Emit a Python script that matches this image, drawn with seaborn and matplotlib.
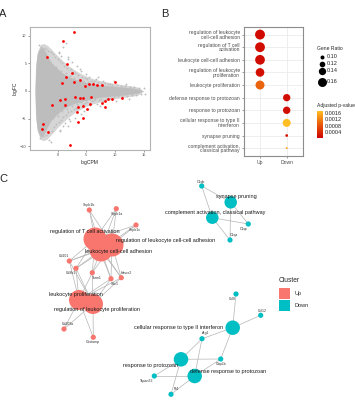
import numpy as np
import pandas as pd
import matplotlib
matplotlib.use("Agg")
import matplotlib.pyplot as plt
import seaborn as sns
from matplotlib.colors import LinearSegmentedColormap, Normalize
from matplotlib.cm import ScalarMappable
from matplotlib.patches import Rectangle

sns.set_theme(style="white")
plt.rcParams['font.family'] = ['Liberation Sans', 'DejaVu Sans']

# ---------------- Panel A data (MA plot) ----------------
cloud_x = [-3.9, -3.8, -3.6, -3.3, -3.0, -2.6, -2.2, -1.8, -1.4, -1.0, -0.5, 0.0, 0.5, 1.0,
           2.0, 3.0, 4.0, 5.0, 6.0, 7.0, 8.0, 9.0, 10.0, 11.0, 12.0, 13.0, 14.0, 14.8]
cloud_upper = [0.0, 4.2, 6.2, 7.3, 7.8, 7.8, 7.2, 6.4, 5.6, 5.0, 4.5, 4.0, 3.5, 3.1,
               2.5, 2.1, 1.8, 1.5, 1.3, 1.15, 1.0, 0.9, 0.8, 0.7, 0.6, 0.5, 0.35, 0.0]
cloud_lower = [0.0, -4.4, -6.4, -7.6, -8.2, -8.2, -7.4, -6.5, -5.7, -5.1, -4.6, -4.1, -3.6, -3.2,
               -2.6, -2.2, -1.9, -1.6, -1.35, -1.2, -1.05, -0.95, -0.85, -0.75, -0.65, -0.5, -0.35, 0.0]
halo_x = [-3.9, -3.6, -3.0, -2.4, -1.8, -1.2, -0.6, 0.0, 1.0, 2.0, 3.0, 4.0, 5.0, 6.0, 7.0,
          8.0, 9.0, 10.0, 11.0, 12.0, 13.0, 14.0, 15.0]
halo_upper = [0.0, 6.8, 8.4, 8.6, 8.3, 7.7, 7.0, 6.4, 5.4, 4.5, 3.8, 3.2, 2.7, 2.3, 2.0,
              1.75, 1.55, 1.35, 1.2, 1.05, 0.9, 0.7, 0.0]
halo_lower = [0.0, -7.0, -8.8, -9.0, -8.7, -8.0, -7.3, -6.6, -5.6, -4.7, -3.9, -3.3, -2.8, -2.4, -2.1,
              -1.85, -1.65, -1.4, -1.25, -1.1, -0.95, -0.75, 0.0]
gray_x = [-3.2, -2.8, -2.4, -2.0, -1.6, -1.2, -0.8, -0.4, 0.0, 0.4, 0.8, 1.2, 1.6, 0.2, 0.6, 1.0, 1.5,
          1.9, 2.3, 2.7, 3.1, 3.5, 3.9, 4.3, 4.7, 5.1, 5.5, 5.9, 6.3, 6.7, 7.1, 7.5, 7.9, 8.3, 8.7,
          9.1, 9.5, 10.3, 11.0, 11.8, 12.6, 13.4, 14.2, 15.1, -1.0, -0.2, 0.6, 1.4, 2.1, 2.9, 3.7,
          4.5, 5.3, 6.1, 2.5, 3.3, 4.1, 0.3, 1.8, 5.0, 7.0, 9.8, 12.0,
          -3.0, -2.5, -2.0, -1.5, -1.2, -1.0, -0.6, -0.2, 0.2, 0.6, 1.0, 1.4, 1.8, 0.4, 0.9, 1.3,
          2.0, 2.4, 2.8, 3.2, 3.6, 4.0, 4.4, 4.8, 5.2, 5.6, 6.0, 6.4, 6.8, 7.2, 7.6, 8.0, 8.4, 8.8,
          9.2, 9.8, 10.5, 11.3, 12.1, 12.9, 13.7, 14.5, 15.3, -0.8, 0.0, 0.8, 1.6, 2.5, 3.3, 4.1,
          4.9, 5.7, 6.5, 2.2, 3.0, 4.6, 0.5, 1.9, 5.3, 7.4, 10.1, 12.4]
gray_y = [8.3, 8.0, 7.8, 7.6, 7.3, 7.0, 6.7, 6.2, 5.8, 5.4, 5.0, 4.6, 4.2, 7.0, 6.4, 7.9, 8.7,
          5.8, 3.9, 3.5, 3.2, 2.9, 4.0, 2.6, 2.3, 2.1, 2.5, 1.9, 1.8, 2.2, 1.6, 1.5, 1.9, 1.4, 1.3,
          1.2, 1.1, 1.0, 0.95, 0.9, 0.8, 0.7, 0.6, 0.5, 4.8, 4.4, 3.6, 3.2, 2.8, 2.4, 2.1,
          1.8, 1.6, 1.4, 5.2, 4.6, 3.6, 6.8, 6.2, 3.1, 2.6, 1.8, 1.3,
          -8.6, -8.2, -8.0, -8.8, -9.2, -7.2, -6.6, -6.0, -5.6, -5.2, -4.7, -4.3, -3.9, -7.2, -6.4, -5.8,
          -5.0, -3.6, -3.3, -3.0, -2.7, -4.2, -2.4, -2.2, -2.0, -2.6, -1.8, -1.7, -2.3, -1.6, -1.5, -1.9, -1.4, -1.3,
          -1.2, -1.1, -1.0, -0.95, -0.9, -0.8, -0.7, -0.6, -0.5, -4.9, -4.5, -3.7, -3.3, -2.8, -2.4, -2.0,
          -1.7, -1.5, -1.4, -5.4, -4.9, -3.7, -7.0, -6.3, -3.2, -2.7, -1.9, -1.4]
red_x = [2.85, 0.87, -1.9, 1.57, 2.6, 1.4, 0.7, 2.9, 3.9, 4.8, 5.5, 6.2, 6.8, 7.8, 10.0,
         11.2, 9.5, 8.8, 8.3, 7.7, 5.9, 4.5, 3.9, 3.0, 1.3, 0.4, -1.05, 1.3, 3.6, 4.5, 5.6, 8.3,
         5.05, 3.4, 4.4, 3.5, -2.5, -2.7, -1.75, 2.15]
red_y = [10.7, 9.15, 6.2, 4.85, 3.3, 2.5, 1.5, 1.7, 2.0, 0.9, 1.2, 1.2, 1.1, 1.0, 1.6,
         -1.2, -1.45, -1.45, -1.9, -2.1, -1.15, -1.2, -1.3, -1.15, -1.45, -1.6, -2.5, -2.5, -2.85, -2.7, -2.4, -2.9,
         -3.3, -3.75, -4.85, -5.6, -5.9, -6.9, -7.5, -9.75]

# ---------------- Panel B data (GO dot plot) ----------------
go_terms = ["regulation of leukocyte\ncell-cell adhesion",
            "regulation of T cell\nactivation",
            "leukocyte cell-cell adhesion",
            "regulation of leukocyte\nproliferation",
            "leukocyte proliferation",
            "defense response to protozoan",
            "response to protozoan",
            "cellular response to type II\ninterferon",
            "synapse pruning",
            "complement activation,\nclassical pathway"]
go_cluster = ["Up", "Up", "Up", "Up", "Up", "Down", "Down", "Down", "Down", "Down"]
gene_ratio = [0.171, 0.170, 0.169, 0.156, 0.160, 0.140, 0.141, 0.148, 0.085, 0.076]
p_adjust = [0.00012, 0.00015, 0.00014, 0.00018, 0.00095, 0.00016, 0.00017, 0.00168, 0.00020, 0.00150]
size_breaks = [0.10, 0.12, 0.14, 0.16]
p_breaks = [0.0004, 0.0008, 0.0012, 0.0016]

# ---------------- Panel C data (cnetplot network) ----------------
node_names = ["regulation of T cell activation", "regulation of leukocyte cell-cell adhesion",
              "leukocyte cell-cell adhesion", "leukocyte proliferation",
              "regulation of leukocyte proliferation",
              "Sirpb1b", "Sirpb1a", "Sirpb1c", "Cd101", "Cd8b1", "Tarm1", "Havcr2", "Sdc1",
              "Cd209a", "Ocstamp",
              "synapse pruning", "complement activation, classical pathway", "C1qb", "C1qc", "C1qa",
              "cellular response to type II interferon", "response to protozoan",
              "defense response to protozoan", "Ccl8", "Ccl12", "Arg1", "Gbp2b", "Tspan32", "Pf4"]
node_cluster = ["Up"] * 15 + ["Down"] * 14
node_count = [8, 8, 8, 7, 7, 1, 1, 1, 1, 1, 1, 1, 1, 1, 1,
              3, 3, 1, 1, 1, 4, 4, 4, 1, 1, 1, 1, 1, 1]
node_x = [95, 112, 101, 79, 93, 89.3, 116.3, 136, 69.3, 76, 92.3, 121.3, 111, 64, 93.3,
          230.7, 212.3, 201.7, 248.3, 230, 232.7, 181, 194.7, 236, 260.7, 202, 220.7, 154.3, 171]
node_y = [239, 245, 250, 300, 304, 210, 208.7, 225, 261, 268.3, 272.7, 277.7, 278.7, 329, 337.3,
          202.3, 217.7, 186, 224, 240, 327.7, 359.3, 376, 294, 315.3, 338.7, 359, 376, 394.3]
edge_gene = (["Sirpb1b"] * 3 + ["Sirpb1a"] * 3 + ["Sirpb1c"] * 3 +
             ["Cd101"] * 5 + ["Cd8b1"] * 5 + ["Tarm1"] * 5 + ["Havcr2"] * 5 + ["Sdc1"] * 5 +
             ["Cd209a"] * 2 + ["Ocstamp"] * 2 +
             ["C1qb"] * 2 + ["C1qc"] * 2 + ["C1qa"] * 2 +
             ["Ccl8", "Ccl12"] + ["Arg1"] * 3 + ["Gbp2b"] * 3 + ["Tspan32"] * 2 + ["Pf4"] * 2)
T1, T2, T3, T4, T5 = node_names[:5]
SP, CA = "synapse pruning", "complement activation, classical pathway"
IF, RP, DP = ("cellular response to type II interferon", "response to protozoan",
              "defense response to protozoan")
edge_term = ([T1, T2, T3] * 3 + [T1, T2, T3, T4, T5] * 5 + [T4, T5] * 2 +
             [SP, CA] * 3 + [IF, IF] + [IF, RP, DP] * 2 + [RP, DP] * 2)

# ---------------- Figure ----------------
W, H = 355, 400
fig = plt.figure(figsize=(W / 100, H / 100), dpi=100)
fig.patch.set_facecolor("white")

# overlay axes in pixel coordinates (panel C + legends)
ax_o = fig.add_axes([0, 0, 1, 1])
ax_o.set_xlim(0, W)
ax_o.set_ylim(H, 0)
ax_o.axis("off")

# ---- Panel A ----
ax_a = fig.add_axes([30 / W, 1 - 150 / H, 120 / W, 123 / H])
ax_a.fill_between(halo_x, halo_lower, halo_upper, color="#d6d6d6", lw=0)
ax_a.fill_between(cloud_x, cloud_lower, cloud_upper, color="#bdbdbd", lw=0.3, edgecolor="#bdbdbd")
sns.scatterplot(x=gray_x, y=gray_y, color="#bdbdbd", s=1.8, linewidth=0, ax=ax_a)
sns.scatterplot(x=red_x, y=red_y, color="#ff0000", s=4, linewidth=0, ax=ax_a, zorder=3)
ax_a.set_xlim(-4.8, 16.1)
ax_a.set_ylim(-10.7, 11.6)
ax_a.set_xticks([0, 5, 10, 15])
ax_a.set_yticks([-10, -5, 0, 5, 10])
ax_a.tick_params(labelsize=2.8, colors="#4d4d4d", length=1.5, width=0.4, pad=1,
                 left=True, bottom=True)
for s in ax_a.spines.values():
    s.set_color("#b3b3b3")
    s.set_linewidth(0.8)
ax_a.set_xlabel("logCPM", fontsize=3.6, labelpad=1.5)
ax_a.set_ylabel("logFC", fontsize=3.6, labelpad=2)

# ---- Panel B ----
cmap = LinearSegmentedColormap.from_list("padj", ["#CD0000", "#E8580A", "#FFBF24"])
pnorm = Normalize(vmin=0.00003, vmax=0.0017)
df_b = pd.DataFrame({"term": pd.Categorical(go_terms, categories=go_terms),
                     "cluster": pd.Categorical(go_cluster, categories=["Up", "Down"]),
                     "ratio": gene_ratio, "p": p_adjust})


def ratio_area(v):
    d_px = 4 + 0.83 * (v * 100 - 10)
    return (d_px * 0.72) ** 2


size_map = {v: ratio_area(v) for v in gene_ratio}
ax_b = fig.add_axes([244 / W, 1 - 155.7 / H, 58.7 / W, 128.7 / H])
sns.scatterplot(data=df_b, x="cluster", y="term", hue="p", palette=cmap, hue_norm=pnorm,
                size="ratio", sizes=size_map, linewidth=0, legend=False, ax=ax_b, zorder=3)
ax_b.set_xlim(-0.6, 1.6)
ax_b.set_ylim(9.6, -0.6)
ax_b.set_xticks([0, 1])
ax_b.set_xticklabels(["Up", "Down"])
ax_b.set_yticks(range(len(go_terms)))
ax_b.set_yticklabels(go_terms, linespacing=0.95)
ax_b.set_xlabel("")
ax_b.set_ylabel("")
ax_b.grid(True, color="#ebebeb", lw=0.6)
ax_b.set_axisbelow(True)
ax_b.tick_params(labelsize=3.6, colors="#4d4d4d", length=1.5, width=0.4, pad=1.5,
                 left=True, bottom=True)
for s in ax_b.spines.values():
    s.set_color("#8c8c8c")
    s.set_linewidth(0.8)

# Size legend
ax_o.text(317, 48, "Gene Ratio", fontsize=3.6, va="center", ha="left")
leg_y = [57, 63.5, 71, 81.5]
for v, yy in zip(size_breaks, leg_y):
    ax_o.scatter([322], [yy], s=ratio_area(v), color="black", linewidth=0)
    ax_o.text(327, yy, f"{v:.2f}", fontsize=4, va="center", ha="left")

# Colour bar
ax_o.text(317, 105.5, "Adjusted p-value", fontsize=3.6, va="center", ha="left")
ax_cb = fig.add_axes([317 / W, 1 - 138.3 / H, 5.5 / W, 27.3 / H])
cb = fig.colorbar(ScalarMappable(norm=pnorm, cmap=cmap), cax=ax_cb)
cb.outline.set_visible(False)
cb.set_ticks(p_breaks)
cb.set_ticklabels([f"{p:.4f}" for p in p_breaks])
ax_cb.tick_params(labelsize=4, length=1.5, width=0.4, color="white", pad=1.5, direction="in")

# ---- Panel C ----
pos = {n: (x, y) for n, x, y in zip(node_names, node_x, node_y)}
for g, t in zip(edge_gene, edge_term):
    ax_o.plot([pos[g][0], pos[t][0]], [pos[g][1], pos[t][1]], color="#b5b5b5", lw=0.5, zorder=1)

df_c = pd.DataFrame({"name": node_names, "cluster": node_cluster, "count": node_count,
                     "x": node_x, "y": node_y})
diam_px = {1: 5.2, 3: 12.5, 4: 14.5, 7: 20.0, 8: 23.0}
node_sizes = {k: (d * 0.72) ** 2 for k, d in diam_px.items()}
sns.scatterplot(data=df_c, x="x", y="y", hue="cluster",
                palette={"Up": "#F8766D", "Down": "#00BFC4"},
                size="count", sizes=node_sizes, linewidth=0, legend=False, ax=ax_o, zorder=2)
ax_o.set_xlim(0, W)
ax_o.set_ylim(H, 0)
ax_o.axis("off")

term_label_pos = {
    "regulation of T cell activation": (84.5, 231.7),
    "regulation of leukocyte cell-cell adhesion": (166, 240.7),
    "leukocyte cell-cell adhesion": (118.5, 251.7),
    "leukocyte proliferation": (75.5, 294.7),
    "regulation of leukocyte proliferation": (97.5, 309.3),
    "synapse pruning": (236, 196.7),
    "complement activation, classical pathway": (215.5, 212.3),
    "cellular response to type II interferon": (179, 327.7),
    "response to protozoan": (151, 366),
    "defense response to protozoan": (228.5, 371),
}
gene_label_pos = {
    "Sirpb1b": (89.3, 205), "Sirpb1a": (117, 213.5), "Sirpb1c": (135, 230),
    "Cd101": (64, 256), "Cd8b1": (71, 273.3), "Tarm1": (97, 278),
    "Havcr2": (126.7, 272.7), "Sdc1": (115, 283.7), "Cd209a": (68, 324),
    "Ocstamp": (93.3, 342.3), "C1qb": (201, 181.7), "C1qc": (244, 229.3),
    "C1qa": (234.3, 235.3), "Ccl8": (232.7, 299), "Ccl12": (262.7, 310.7),
    "Arg1": (206, 333.3), "Gbp2b": (220.7, 364), "Tspan32": (146.7, 380.7),
    "Pf4": (176, 389.3),
}
for n, (lx, ly) in term_label_pos.items():
    ax_o.text(lx, ly, n, fontsize=4, ha="center", va="center", color="#1a1a1a", zorder=4)
for n, (lx, ly) in gene_label_pos.items():
    ax_o.text(lx, ly, n, fontsize=2.5, ha="center", va="center", color="#333333", zorder=4)

# Cluster legend
ax_o.text(278.5, 280, "Cluster", fontsize=4.8, ha="left", va="center")
ax_o.add_patch(Rectangle((279, 288), 11, 11, color="#F8766D", lw=0))
ax_o.add_patch(Rectangle((279, 300), 11, 11, color="#00BFC4", lw=0))
ax_o.text(294.5, 293.5, "Up", fontsize=4, ha="left", va="center")
ax_o.text(294.5, 305.5, "Down", fontsize=4, ha="left", va="center")

# Panel letters
ax_o.text(-1, 14, "A", fontsize=8, ha="left", va="center")
ax_o.text(161, 14, "B", fontsize=8, ha="left", va="center")
ax_o.text(-1, 179, "C", fontsize=8, ha="left", va="center")

fig.savefig("out.png", dpi=100, facecolor="white")
